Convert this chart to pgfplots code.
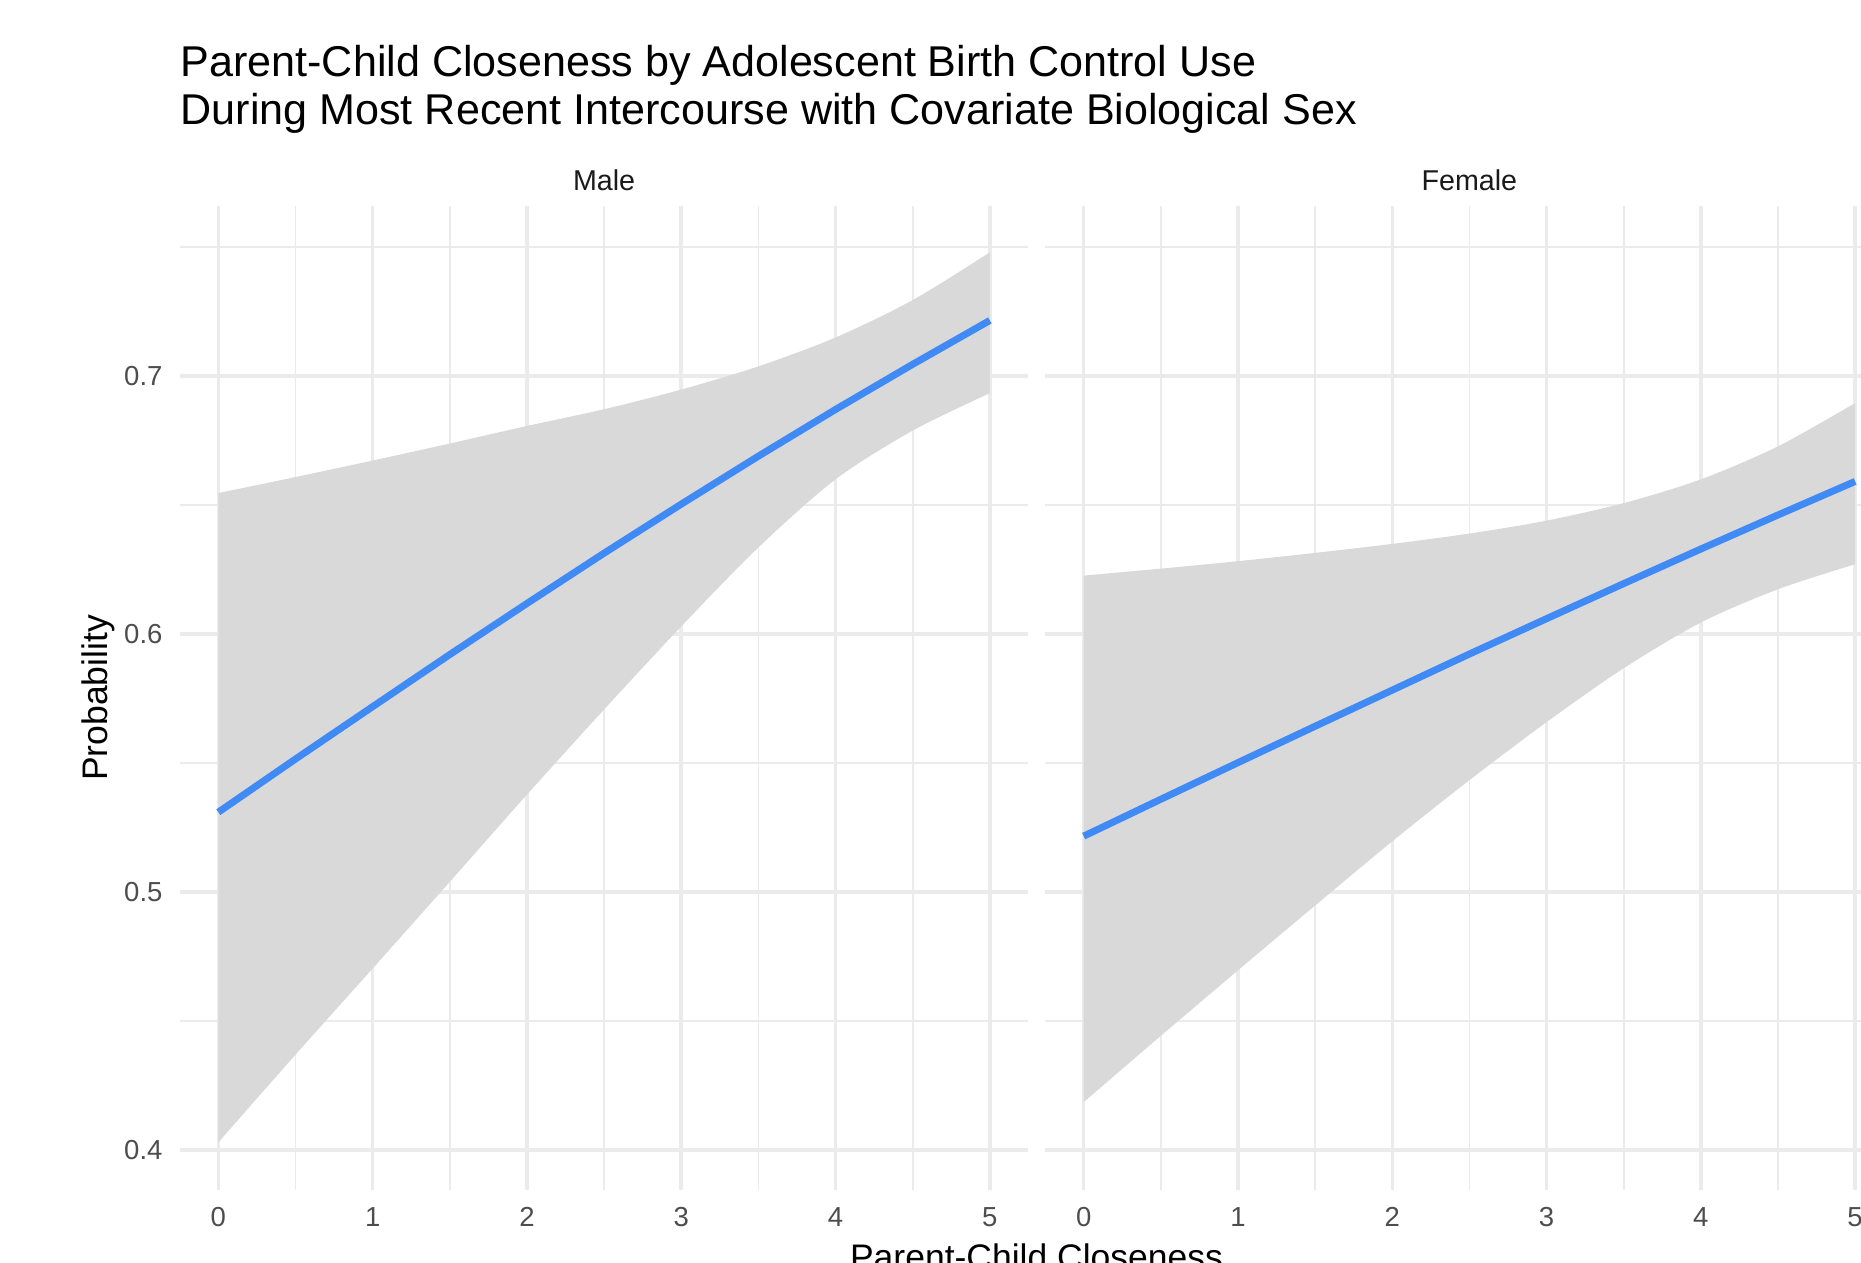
\documentclass[border=0pt]{standalone}
\usepackage{pgfplots}
\pgfplotsset{compat=1.18}
\usepgfplotslibrary{fillbetween}
\usepackage{fontspec}
\setmainfont{Liberation Sans}
\definecolor{gridc}{HTML}{EBEBEB}
\definecolor{ribbon}{HTML}{D9D9D9}
\definecolor{lineblue}{HTML}{408AF6}
\definecolor{tickc}{HTML}{4D4D4D}
\definecolor{stripc}{HTML}{1A1A1A}

\pgfplotsset{
  panel/.style={
    scale only axis, width=254.58pt, height=295.32pt,
    xmin=-0.25, xmax=5.25, ymin=0.3845, ymax=0.7661,
    anchor=south west,
    axis line style={draw=none},
    major tick length=0pt, minor tick length=0pt,
    xtick={0,1,2,3,4,5}, minor xtick={0.5,1.5,2.5,3.5,4.5},
    ytick={0.4,0.5,0.6,0.7}, minor ytick={0.45,0.55,0.65,0.75},
    grid=both,
    major grid style={gridc, line width=1.05pt},
    minor grid style={gridc, line width=0.53pt},
    xticklabels={0,1,2,3,4,5},
    xticklabel style={font=\fontsize{8.25}{9}\selectfont, text=tickc, anchor=north, inner sep=0pt, yshift=-5.1pt},
    yticklabel style={font=\fontsize{8.25}{9}\selectfont, text=tickc, anchor=east, inner sep=0pt, xshift=-5.0pt},
  }
}

\begin{document}
\begin{tikzpicture}

\begin{axis}[panel, at={(53.94pt,21.87pt)}, yticklabels={0.4,0.5,0.6,0.7}]
  \addplot[name path=mu, draw=none, smooth, tension=0.5, forget plot] coordinates {
    (0.0,0.6547) (0.5,0.6609) (1.0,0.6673) (1.5,0.6739) (2.0,0.6807) (2.5,0.6872)
    (3.0,0.6948) (3.5,0.7038) (4.0,0.7150) (4.5,0.7295) (5.0,0.7480)
  };
  \addplot[name path=ml, draw=none, smooth, tension=0.5, forget plot] coordinates {
    (0.0,0.4030) (0.5,0.4370) (1.0,0.4704) (1.5,0.5040) (2.0,0.5378) (2.5,0.5708)
    (3.0,0.6030) (3.5,0.6336) (4.0,0.6600) (4.5,0.6789) (5.0,0.6934)
  };
  \addplot[ribbon, draw=none] fill between[of=mu and ml];
  \addplot[lineblue, line width=2.1pt] coordinates {
    (0.0,0.5310) (0.5,0.5516) (1.0,0.5719) (1.5,0.5921) (2.0,0.6119) (2.5,0.6314)
    (3.0,0.6504) (3.5,0.6690) (4.0,0.6871) (4.5,0.7046) (5.0,0.7216)
  };
\end{axis}

\begin{axis}[panel, at={(313.53pt,21.87pt)}, yticklabels={}]
  \addplot[name path=fu, draw=none, smooth, tension=0.5, forget plot] coordinates {
    (0.0,0.6227) (0.5,0.6254) (1.0,0.6283) (1.5,0.6315) (2.0,0.6350) (2.5,0.6390)
    (3.0,0.6440) (3.5,0.6508) (4.0,0.6600) (4.5,0.6728) (5.0,0.6896)
  };
  \addplot[name path=fl, draw=none, smooth, tension=0.5, forget plot] coordinates {
    (0.0,0.4186) (0.5,0.4443) (1.0,0.4697) (1.5,0.4948) (2.0,0.5197) (2.5,0.5434)
    (3.0,0.5659) (3.5,0.5868) (4.0,0.6045) (4.5,0.6174) (5.0,0.6271)
  };
  \addplot[ribbon, draw=none] fill between[of=fu and fl];
  \addplot[lineblue, line width=2.1pt] coordinates {
    (0.0,0.5217) (0.5,0.5360) (1.0,0.5502) (1.5,0.5643) (2.0,0.5783) (2.5,0.5923)
    (3.0,0.6060) (3.5,0.6196) (4.0,0.6330) (4.5,0.6462) (5.0,0.6592)
  };
\end{axis}

\node[anchor=base west, inner sep=0pt, font=\fontsize{12.93}{14}\selectfont] at (54pt,355.9pt) {Parent-Child Closeness by Adolescent Birth Control Use};
\node[anchor=base west, inner sep=0pt, font=\fontsize{12.93}{14}\selectfont] at (54pt,341.6pt) {During Most Recent Intercourse with Covariate Biological Sex};

\node[anchor=base, inner sep=0pt, text=stripc, font=\fontsize{8.6}{10}\selectfont] at (181.23pt,321.8pt) {Male};
\node[anchor=base, inner sep=0pt, text=stripc, font=\fontsize{8.6}{10}\selectfont] at (440.8pt,321.8pt) {Female};

\node[anchor=base, rotate=90, inner sep=0pt, font=\fontsize{10.65}{12}\selectfont] at (32.1pt,169.5pt) {Probability};
\node[anchor=base, inner sep=0pt, font=\fontsize{10.65}{12}\selectfont] at (310.95pt,-2.1pt) {Parent-Child Closeness};

\pgfresetboundingbox
\path[use as bounding box] (0,0) rectangle (558.3pt,378.9pt);
\end{tikzpicture}
\end{document}
